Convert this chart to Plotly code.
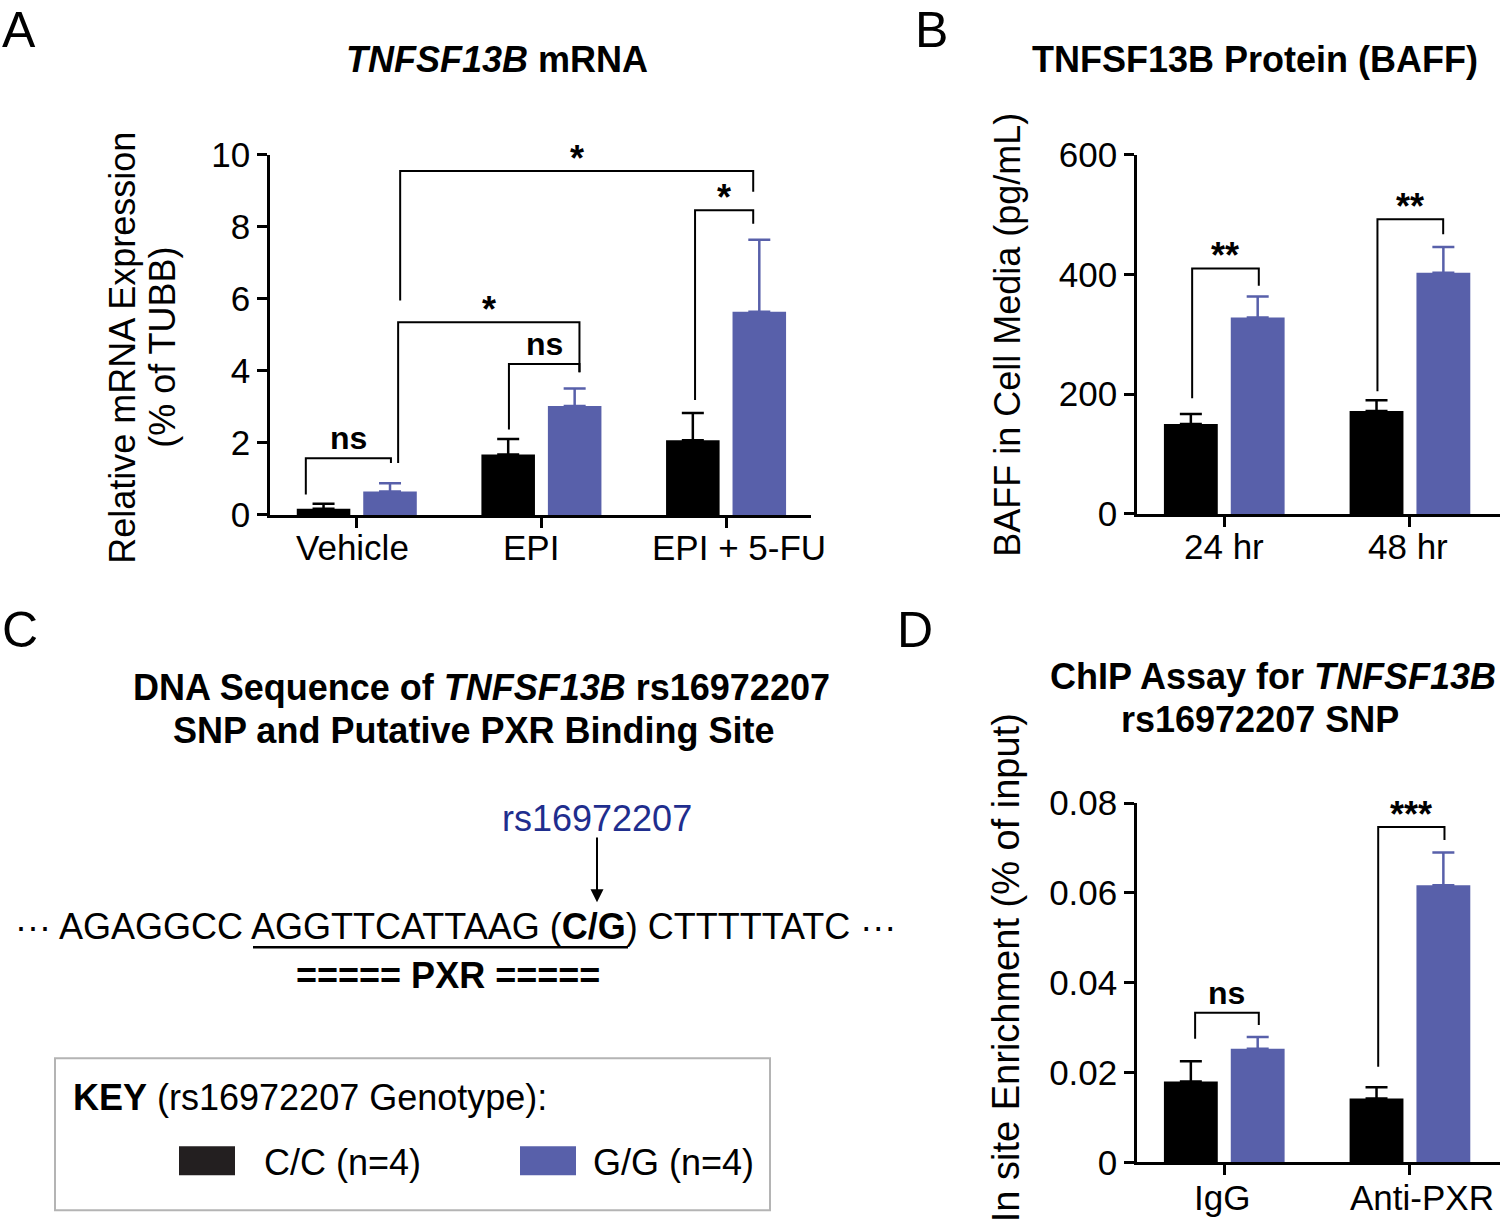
import plotly.graph_objects as go

# ---------------- data ----------------
A_categories = ["Vehicle", "EPI", "EPI + 5-FU"]
A_cc = [0.17, 1.68, 2.07]
A_cc_err = [0.14, 0.43, 0.76]
A_gg = [0.65, 3.02, 5.64]
A_gg_err = [0.23, 0.49, 2.00]
A_yticks = [0, 2, 4, 6, 8, 10]

B_categories = ["24 hr", "48 hr"]
B_cc = [150, 172]
B_cc_err = [17, 18]
B_gg = [328, 403]
B_gg_err = [35, 43]
B_yticks = [0, 200, 400, 600]

D_categories = ["IgG", "Anti-PXR"]
D_cc = [0.0180, 0.0142]
D_cc_err = [0.0045, 0.0025]
D_gg = [0.0253, 0.0617]
D_gg_err = [0.0026, 0.0073]
D_yticks = [0, 0.02, 0.04, 0.06, 0.08]
D_yticklabels = ["0", "0.02", "0.04", "0.06", "0.08"]

# significance brackets: (x_left, x_right, y_left_foot, y_top, y_right_foot, label)
A_brackets = [
    (-0.276, 0.185, 0.57, 1.57, 1.44, "ns"),
    (0.224, 1.206, 1.44, 5.35, 3.96, "*"),
    (0.824, 1.206, 2.37, 4.19, 3.96, "ns"),
    (0.235, 2.147, 5.95, 9.55, 8.97, "*"),
    (1.832, 2.147, 3.19, 8.46, 8.08, "*"),
]
B_brackets = [
    (-0.173, 0.186, 193, 410, 381, "**"),
    (0.825, 1.179, 205, 492, 467, "**"),
]
D_brackets = [
    (-0.157, 0.186, 0.0275, 0.0333, 0.0306, "ns"),
    (0.829, 1.186, 0.0213, 0.0747, 0.0718, "***"),
]

genotype_labels = ["C/C (n=4)", "G/G (n=4)"]

# ---------------- style ----------------
SY, CY = 0.9686, 0.4          # vertical scale/offset of the photographed page
FW = 1500
FH = int(round((1226 - CY) / SY)) + 1
FONT = "Liberation Sans, Arial, sans-serif"
BLACK = "#000000"
BLUE = "#5860AA"
SWATCH_BLACK = "#231F20"
TXT_BLUE = "#1F2E8E"
BAR_W = 0.29
A_label_shift = [-4, -10, 13]
B_label_shift = [0, -2]
D_label_shift = [-2, 12]


def px(x):
    return min(max(x / FW, 0), 1)


def py(y):
    return min(max(1 - ((y - CY) / SY) / FH, 0), 1)


fig = go.Figure()


def add_bars(xa, ya, cc, cc_err, gg, gg_err):
    xs = list(range(len(cc)))
    fig.add_trace(go.Bar(
        x=xs, y=cc, width=BAR_W, offset=-0.325, marker=dict(color=BLACK, line=dict(width=0)),
        error_y=dict(type="data", array=cc_err, arrayminus=[0] * len(cc), symmetric=False,
                     color=BLACK, thickness=2.5, width=11),
        xaxis=xa, yaxis=ya, showlegend=False, hoverinfo="skip"))
    fig.add_trace(go.Bar(
        x=xs, y=gg, width=BAR_W, offset=0.035, marker=dict(color=BLUE, line=dict(width=0)),
        error_y=dict(type="data", array=gg_err, arrayminus=[0] * len(gg), symmetric=False,
                     color=BLUE, thickness=2.5, width=11),
        xaxis=xa, yaxis=ya, showlegend=False, hoverinfo="skip"))


def add_brackets(xa, ya, brackets):
    for xl, xr, yl, top, yr, lab in brackets:
        fig.add_trace(go.Scatter(
            x=[xl, xl, xr, xr], y=[yl, top, top, yr], mode="lines",
            line=dict(color=BLACK, width=2), xaxis=xa, yaxis=ya,
            showlegend=False, hoverinfo="skip", cliponaxis=False))
        fig.add_annotation(
            x=(xl + xr) / 2, y=top, xref=xa, yref=ya, text="<b>%s</b>" % lab,
            showarrow=False, yanchor="bottom", xanchor="center",
            yshift=0 if lab == "ns" else -10,
            font=dict(family=FONT, size=32 if lab == "ns" else 36, color=BLACK))


def add_cat_labels(xa, cats, shifts, y):
    for i, (c, s) in enumerate(zip(cats, shifts)):
        fig.add_annotation(x=i, y=py(y), xref=xa, yref="paper", text=c, showarrow=False,
                           xanchor="center", yanchor="middle", xshift=s,
                           font=dict(family=FONT, size=35, color=BLACK))


add_bars("x", "y", A_cc, A_cc_err, A_gg, A_gg_err)
add_bars("x2", "y2", B_cc, B_cc_err, B_gg, B_gg_err)
add_bars("x3", "y3", D_cc, D_cc_err, D_gg, D_gg_err)
add_brackets("x", "y", A_brackets)
add_brackets("x2", "y2", B_brackets)
add_brackets("x3", "y3", D_brackets)
add_cat_labels("x", A_categories, A_label_shift, 548)
add_cat_labels("x2", B_categories, B_label_shift, 547)
add_cat_labels("x3", D_categories, D_label_shift, 1197)

axis_common = dict(showline=True, linecolor=BLACK, linewidth=2.5, ticks="outside",
                   ticklen=10, tickwidth=2.5, tickcolor=BLACK, showgrid=False,
                   zeroline=False, fixedrange=True,
                   tickfont=dict(family=FONT, size=35, color=BLACK))

fig.update_layout(
    width=FW, height=FH, margin=dict(l=0, r=0, t=0, b=0),
    paper_bgcolor="white", plot_bgcolor="rgba(0,0,0,0)",
    barmode="overlay", showlegend=False,
    font=dict(family=FONT, color=BLACK),
    xaxis=dict(domain=[px(270), px(811)], range=[-0.47, 2.46], anchor="y",
               tickvals=list(range(len(A_categories))), showticklabels=False, **axis_common),
    yaxis=dict(domain=[py(515), py(155)], range=[0, 10], anchor="x",
               tickvals=A_yticks, **axis_common),
    xaxis2=dict(domain=[px(1137), 1.0], range=[-0.47, 1.485], anchor="y2",
                tickvals=list(range(len(B_categories))), showticklabels=False, **axis_common),
    yaxis2=dict(domain=[py(514), py(155)], range=[0, 600], anchor="x2",
                tickvals=B_yticks, **axis_common),
    xaxis3=dict(domain=[px(1137), 1.0], range=[-0.47, 1.485], anchor="y3",
                tickvals=list(range(len(D_categories))), showticklabels=False, **axis_common),
    yaxis3=dict(domain=[py(1162), py(803)], range=[0, 0.08], anchor="x3",
                tickvals=D_yticks, ticktext=D_yticklabels, **axis_common),
)


def text(x, y, s, size=36, color=BLACK, xanchor="center", yanchor="middle", angle=0):
    fig.add_annotation(x=px(x), y=py(y), xref="paper", yref="paper", text=s,
                       showarrow=False, xanchor=xanchor, yanchor=yanchor, textangle=angle,
                       borderpad=0, font=dict(family=FONT, size=size, color=color))


# panel letters
text(19, 1, "A", size=50, yanchor="top")
text(932, 1, "B", size=50, yanchor="top")
text(20, 630, "C", size=50)
text(915, 630, "D", size=50)

# titles
text(497, 60, "<b><i>TNFSF13B</i> mRNA</b>")
text(1255, 60, "<b>TNFSF13B Protein (BAFF)</b>")
text(1273, 676, "<b>ChIP Assay for <i>TNFSF13B</i></b>")
text(1260, 719, "<b>rs16972207 SNP</b>")
text(481, 687, "<b>DNA Sequence of <i>TNFSF13B</i> rs16972207</b>")
text(473, 730, "<b>SNP and Putative PXR Binding Site</b>")

# axis titles
text(123, 348, "Relative mRNA Expression", angle=-90)
text(163, 348, "(% of TUBB)", angle=-90)
text(1008, 335, "BAFF in Cell Media (pg/mL)", angle=-90)
text(1006, 968, "In site Enrichment (% of input)", size=38, angle=-90)

# panel C: sequence
text(597, 818, "rs16972207", color=TXT_BLUE)
fig.add_annotation(x=px(597), y=py(902), ax=0, ay=-64 / SY, xref="paper", yref="paper",
                   axref="pixel", ayref="pixel", showarrow=True, arrowhead=2, arrowsize=1.3,
                   arrowwidth=2, arrowcolor=BLACK, text="")
text(455, 926, "··· AGAGGCC AGGTTCATTAAG (<b>C/G</b>) CTTTTTATC ···")
fig.add_shape(type="line", xref="paper", yref="paper", x0=px(253), x1=px(628),
              y0=py(947), y1=py(947), line=dict(color=BLACK, width=2.5))
text(448, 975, "<b>===== PXR =====</b>")

# key box
fig.add_shape(type="rect", xref="paper", yref="paper", x0=px(55), x1=px(770),
              y0=py(1058), y1=py(1210), line=dict(color="#B4B4B4", width=2), fillcolor="white",
              layer="below")
text(72, 1097, "<b>KEY</b> (rs16972207 Genotype):", xanchor="left")
fig.add_shape(type="rect", xref="paper", yref="paper", x0=px(179), x1=px(235),
              y0=py(1146), y1=py(1175), line=dict(width=0), fillcolor=SWATCH_BLACK)
fig.add_shape(type="rect", xref="paper", yref="paper", x0=px(520), x1=px(576),
              y0=py(1146), y1=py(1175), line=dict(width=0), fillcolor=BLUE)
text(263, 1162, genotype_labels[0], xanchor="left")
text(592, 1162, genotype_labels[1], xanchor="left")

fig.write_html("out.html", config={"displayModeBar": False},
               post_script="document.body.style.margin='0px';document.body.style.marginTop='-20px';")
